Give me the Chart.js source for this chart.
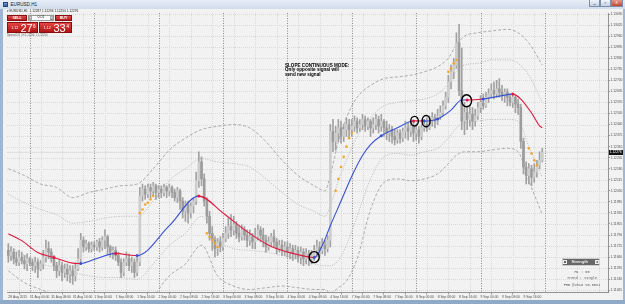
<!DOCTYPE html>
<html>
<head>
<meta charset="utf-8">
<title>EURUSD,H1</title>
<script src="https://cdn.jsdelivr.net/npm/chart.js@4.4.1/dist/chart.umd.min.js"></script>
<style>
html,body{margin:0;padding:0}
body{width:625px;height:304px;position:relative;overflow:hidden;background:#9fb6d4;font-family:"Liberation Sans",Arial,sans-serif}
.abs{position:absolute;white-space:nowrap}
#titlebar{left:0;top:0;width:625px;height:9px;background:linear-gradient(#e8eef7,#d0dcec)}
#wicon{left:3px;top:1.5px;width:5px;height:5px;background:linear-gradient(#6f9bd6,#2f5f9f);border:0.5px solid #234a7a;box-sizing:border-box}
#caption{left:10.5px;top:1.6px;font-size:4.6px;line-height:5px;color:#1a1a1a}
.wbtn{top:0;height:6.5px;box-sizing:border-box;border:0.5px solid #7b8fab;border-top:none;background:linear-gradient(#f2f6fb,#c3d1e4);font-size:4.5px;line-height:5.5px;text-align:center;color:#2a2a2a}
#wrap{left:3px;top:9px;width:620px;height:291px;background:#f2f2f2}
#bottombar{left:0;top:300px;width:625px;height:4px;background:#8fa9c9}
#hdr{left:6.5px;top:10.4px;font-size:3.2px;line-height:3.6px;color:#222}
.redbtn{height:6px;top:15px;box-sizing:border-box;background:linear-gradient(#e44b4b,#b91b1b);border:0.5px solid #8a1111;color:#fff;font-weight:bold;font-size:3.6px;line-height:5.2px;text-align:center}
#lot{left:28px;top:15px;width:26px;height:6px;box-sizing:border-box;background:#fff;border:0.5px solid #9a9a9a}
.pm{top:15.6px;width:3.6px;height:4.8px;background:#e2e2e2;border:0.4px solid #aaa;box-sizing:border-box;font-size:3.6px;line-height:4px;text-align:center;color:#333}
#lotv{left:37.5px;top:15.4px;font-size:3.6px;line-height:5px;color:#222}
.pbox{top:21.6px;height:11.4px;box-sizing:border-box;background:linear-gradient(#e64444,#b01414);border:0.5px solid #861010;color:#fff}
.small{position:absolute;bottom:1.8px;font-size:3.6px;line-height:4px}
.big{position:absolute;top:0.6px;font-size:11px;line-height:10px}
.sup{position:absolute;top:1px;font-size:4.6px;line-height:5px}
#info{left:7px;top:33.6px;font-size:2.6px;line-height:3px;color:#555}
#note{left:285px;top:63.6px;font-size:4.6px;line-height:4.55px;font-weight:bold;color:#000}
#strhead{left:562px;top:258.3px;width:38px;height:7.4px;box-sizing:border-box;background:#676767;border:0.5px solid #cfcfcf}
.sicon{top:259.6px;width:4px;height:4px;box-sizing:border-box;border:0.6px solid #eee;font-size:3.4px;line-height:3px;text-align:center;color:#eee}
#strtxt{left:571.5px;top:259.4px;font-size:4px;line-height:5px;font-weight:bold;color:#ececec}
.sline{left:562px;width:40px;text-align:center;font-family:"Liberation Mono",monospace;font-size:3.6px;line-height:4px;color:#5a5a5a}
#bidlab{left:608.5px;width:14.5px;height:4.8px;background:#111;color:#fff;font-size:3.3px;line-height:4.8px;text-align:center}
</style>
</head>
<body>
<div class="abs" id="titlebar"></div>
<div class="abs" id="wicon"></div>
<div class="abs" id="caption">EURUSD,H1</div>
<div class="abs wbtn" style="left:589px;width:11px">_</div>
<div class="abs wbtn" style="left:600px;width:10.5px">&#9643;</div>
<div class="abs wbtn" style="left:610.5px;width:12px;background:linear-gradient(#e69a8c,#c2452f);color:#fff">x</div>
<div class="abs" id="wrap"><canvas id="c" width="620" height="291"></canvas></div>
<div class="abs" id="bottombar"></div>

<div class="abs" id="hdr">&#9662; EURUSD,H1&nbsp; 1.12287 1.12294 1.12250 1.12276</div>
<div class="abs redbtn" style="left:7px;width:20px">SELL</div>
<div class="abs" id="lot"></div>
<div class="abs pm" style="left:28.6px">&#8722;</div>
<div class="abs" id="lotv">0.01</div>
<div class="abs pm" style="left:49.6px">+</div>
<div class="abs redbtn" style="left:55px;width:17px">BUY</div>
<div class="abs pbox" style="left:7px;width:30.5px">
  <span class="small" style="left:3.2px">1.12</span>
  <span class="big" style="left:12.4px">27</span>
  <span class="sup" style="left:25px">6</span>
</div>
<div class="abs pbox" style="left:39px;width:33px">
  <span class="small" style="left:3.8px">1.12</span>
  <span class="big" style="left:13.4px">33</span>
  <span class="sup" style="left:26.6px">4</span>
</div>
<div class="abs" id="info">Spread 5.8 &nbsp;| H 1.12294 &nbsp;L 1.12250</div>

<div class="abs" id="note">SLOPE CONTINUOUS MODE:<br>Only opposite signal will<br>send new signal</div>

<div class="abs" id="strhead"></div>
<div class="abs sicon" style="left:563.4px"></div>
<div class="abs" id="strtxt">Strength</div>
<div class="abs sicon" style="left:594.6px">x</div>
<div class="abs sline" style="top:270px">H1 : 60</div>
<div class="abs sline" style="top:276.4px">Trend : Single</div>
<div class="abs sline" style="top:283.2px">FHB @2016 v0.60n4</div>

<div class="abs" id="bidlab"></div>

<script>
// ---------- axis labels ----------
const timeLabels = ["28 Aug 2015","31 Aug 00:00","31 Aug 08:00","31 Aug 16:00","1 Sep 00:00","1 Sep 08:00","1 Sep 16:00","2 Sep 00:00","2 Sep 08:00","2 Sep 16:00","3 Sep 00:00","3 Sep 08:00","3 Sep 16:00","4 Sep 00:00","4 Sep 08:00","4 Sep 16:00","7 Sep 00:00","7 Sep 08:00","7 Sep 16:00","8 Sep 00:00","8 Sep 08:00","8 Sep 16:00","9 Sep 00:00","9 Sep 08:00","9 Sep 16:00"];
const tickBars = [0,8,16,24,32,40,48,56,64,72,80,88,96,104,112,120,128,136,144,152,160,168,176,184,192];
const dayBars = [8,32,56,80,104,128,152,176,200];
const gridBars = [4,12,20,28,36,44,52,60,68,76,84,92,100,108,116,124,132,140,148,156,164,172,180,188,196,204,212,220];
const priceTicks = [1.13090,1.13025,1.12960,1.12895,1.12830,1.12765,1.12700,1.12635,1.12570,1.12505,1.12440,1.12375,1.12310,1.12245,1.12180,1.12115,1.12050,1.11985,1.11920,1.11855,1.11790,1.11725,1.11660,1.11595,1.11530,1.11465];
const priceLabels = ["1.13090","1.13025","1.12960","1.12895","1.12830","1.12765","1.12700","1.12635","1.12570","1.12505","1.12440","1.12375","1.12310","1.12245","1.12180","1.12115","1.12050","1.11985","1.11920","1.11855","1.11790","1.11725","1.11660","1.11595","1.11530","1.11465"];
const yMin = 1.11455, yMax = 1.13096;
const bidPrice = 1.12276;

// ---------- EURUSD H1 candles ----------
const open = [
1.1170,1.1167,1.1169,1.1165,1.1163,1.1166,1.1164,1.1162,1.1165,1.1163,
1.1161,1.1163,1.1159,1.1162,1.1166,1.1171,1.1169,1.1165,1.1161,1.1158,
1.1161,1.1157,1.1159,1.1156,1.1158,1.1155,1.1159,1.1165,1.1176,1.1172,
1.1174,1.1171,1.1173,1.1172,1.1175,1.1172,1.1176,1.1178,1.1172,1.1169,
1.1170,1.1167,1.1163,1.1157,1.1163,1.1165,1.1161,1.1163,1.1157,1.1163,
1.1202,1.1206,1.1203,1.1207,1.1205,1.1208,1.1204,1.1206,1.1204,1.1207,
1.1205,1.1207,1.1204,1.1201,1.1205,1.1199,1.1193,1.1197,1.1192,1.1196,
1.1199,1.1211,1.1222,1.1212,1.1199,1.1190,1.1180,1.1176,1.1171,1.1175,
1.1172,1.1177,1.1180,1.1184,1.1182,1.1185,1.1180,1.1178,1.1182,1.1179,
1.1176,1.1178,1.1175,1.1178,1.1182,1.1179,1.1176,1.1172,1.1175,1.1178,
1.1175,1.1171,1.1173,1.1170,1.1172,1.1169,1.1171,1.1168,1.1170,1.1166,
1.1169,1.1165,1.1168,1.1165,1.1167,1.1170,1.1172,1.1170,1.1173,1.1171,
1.1176,1.1240,1.1234,1.1239,1.1242,1.1237,1.1241,1.1244,1.1241,1.1243,
1.1246,1.1242,1.1244,1.1247,1.1243,1.1246,1.1242,1.1244,1.1247,1.1243,
1.1246,1.1242,1.1239,1.1241,1.1237,1.1235,1.1239,1.1236,1.1240,1.1242,
1.1240,1.1243,1.1239,1.1241,1.1237,1.1242,1.1244,1.1242,1.1246,1.1248,
1.1246,1.1249,1.1251,1.1255,1.1260,1.1269,1.1275,1.1279,1.1292,1.1264,
1.1246,1.1251,1.1247,1.1250,1.1246,1.1249,1.1254,1.1257,1.1255,1.1260,
1.1262,1.1264,1.1262,1.1265,1.1263,1.1261,1.1263,1.1260,1.1257,1.1260,
1.1256,1.1254,1.1234,1.1219,1.1214,1.1218,1.1213,1.1216,1.1220,1.1223];
const high = [
1.1174,1.1172,1.1171,1.1169,1.1170,1.1169,1.1167,1.1168,1.1166,1.1165,
1.1166,1.1165,1.1164,1.1170,1.1176,1.1175,1.1171,1.1167,1.1163,1.1164,
1.1163,1.1162,1.1162,1.1161,1.1161,1.1163,1.1171,1.1180,1.1178,1.1176,
1.1175,1.1175,1.1175,1.1176,1.1177,1.1178,1.1182,1.1179,1.1173,1.1172,
1.1172,1.1169,1.1165,1.1165,1.1169,1.1168,1.1166,1.1165,1.1166,1.1207,
1.1209,1.1208,1.1209,1.1209,1.1210,1.1209,1.1208,1.1208,1.1209,1.1208,
1.1209,1.1208,1.1206,1.1207,1.1206,1.1201,1.1199,1.1199,1.1198,1.1201,
1.1216,1.1228,1.1225,1.1215,1.1201,1.1193,1.1184,1.1178,1.1177,1.1178,
1.1180,1.1184,1.1189,1.1191,1.1190,1.1187,1.1184,1.1185,1.1184,1.1182,
1.1182,1.1180,1.1183,1.1185,1.1184,1.1183,1.1179,1.1178,1.1180,1.1182,
1.1177,1.1176,1.1176,1.1175,1.1175,1.1174,1.1173,1.1173,1.1172,1.1172,
1.1171,1.1171,1.1170,1.1170,1.1173,1.1176,1.1175,1.1177,1.1176,1.1179,
1.1244,1.1247,1.1243,1.1247,1.1246,1.1244,1.1248,1.1247,1.1247,1.1249,
1.1248,1.1247,1.1250,1.1249,1.1248,1.1247,1.1248,1.1250,1.1249,1.1250,
1.1247,1.1246,1.1244,1.1243,1.1241,1.1241,1.1241,1.1242,1.1246,1.1245,
1.1246,1.1246,1.1244,1.1243,1.1244,1.1247,1.1248,1.1249,1.1251,1.1250,
1.1253,1.1255,1.1258,1.1263,1.1273,1.1279,1.1283,1.1298,1.1303,1.1289,
1.1257,1.1255,1.1255,1.1254,1.1253,1.1257,1.1261,1.1262,1.1263,1.1265,
1.1268,1.1269,1.1270,1.1271,1.1267,1.1265,1.1265,1.1262,1.1262,1.1261,
1.1259,1.1256,1.1236,1.1222,1.1221,1.1220,1.1221,1.1223,1.1228,1.1230];
const low = [
1.1163,1.1164,1.1162,1.1161,1.1161,1.1162,1.1159,1.1158,1.1161,1.1158,
1.1157,1.1154,1.1158,1.1159,1.1163,1.1165,1.1163,1.1158,1.1154,1.1155,
1.1152,1.1154,1.1152,1.1151,1.1150,1.1152,1.1158,1.1163,1.1169,1.1170,
1.1169,1.1169,1.1170,1.1170,1.1169,1.1170,1.1171,1.1168,1.1166,1.1165,
1.1164,1.1161,1.1154,1.1155,1.1161,1.1158,1.1157,1.1154,1.1155,1.1161,
1.1199,1.1200,1.1201,1.1201,1.1202,1.1200,1.1201,1.1201,1.1202,1.1201,
1.1202,1.1201,1.1199,1.1198,1.1194,1.1189,1.1187,1.1186,1.1189,1.1192,
1.1197,1.1207,1.1208,1.1196,1.1186,1.1176,1.1170,1.1166,1.1167,1.1169,
1.1170,1.1175,1.1177,1.1178,1.1179,1.1177,1.1175,1.1176,1.1176,1.1172,
1.1173,1.1171,1.1171,1.1176,1.1175,1.1172,1.1169,1.1170,1.1172,1.1172,
1.1168,1.1169,1.1167,1.1167,1.1166,1.1165,1.1164,1.1165,1.1163,1.1162,
1.1161,1.1162,1.1161,1.1162,1.1164,1.1166,1.1166,1.1168,1.1167,1.1169,
1.1172,1.1228,1.1229,1.1234,1.1233,1.1234,1.1237,1.1236,1.1237,1.1240,
1.1239,1.1240,1.1241,1.1240,1.1241,1.1237,1.1239,1.1241,1.1239,1.1240,
1.1237,1.1235,1.1234,1.1233,1.1232,1.1233,1.1233,1.1234,1.1236,1.1235,
1.1237,1.1234,1.1235,1.1233,1.1235,1.1240,1.1240,1.1241,1.1243,1.1242,
1.1244,1.1247,1.1249,1.1253,1.1257,1.1265,1.1271,1.1277,1.1261,1.1241,
1.1238,1.1241,1.1243,1.1241,1.1243,1.1247,1.1251,1.1253,1.1254,1.1257,
1.1260,1.1259,1.1260,1.1260,1.1258,1.1257,1.1255,1.1255,1.1254,1.1251,
1.1250,1.1230,1.1215,1.1209,1.1209,1.1208,1.1210,1.1213,1.1218,1.1222];
const close = [
1.1167,1.1169,1.1165,1.1163,1.1166,1.1164,1.1162,1.1165,1.1163,1.1161,
1.1163,1.1159,1.1162,1.1166,1.1171,1.1169,1.1165,1.1161,1.1158,1.1161,
1.1157,1.1159,1.1156,1.1158,1.1155,1.1159,1.1165,1.1176,1.1172,1.1174,
1.1171,1.1173,1.1172,1.1175,1.1172,1.1176,1.1178,1.1172,1.1169,1.1170,
1.1167,1.1163,1.1157,1.1163,1.1165,1.1161,1.1163,1.1157,1.1163,1.1202,
1.1206,1.1203,1.1207,1.1205,1.1208,1.1204,1.1206,1.1204,1.1207,1.1205,
1.1207,1.1204,1.1201,1.1205,1.1199,1.1193,1.1197,1.1192,1.1196,1.1199,
1.1211,1.1222,1.1212,1.1199,1.1190,1.1180,1.1176,1.1171,1.1175,1.1172,
1.1177,1.1180,1.1184,1.1182,1.1185,1.1180,1.1178,1.1182,1.1179,1.1176,
1.1178,1.1175,1.1178,1.1182,1.1179,1.1176,1.1172,1.1175,1.1178,1.1175,
1.1171,1.1173,1.1170,1.1172,1.1169,1.1171,1.1168,1.1170,1.1166,1.1169,
1.1165,1.1168,1.1165,1.1167,1.1170,1.1172,1.1170,1.1173,1.1171,1.1176,
1.1240,1.1234,1.1239,1.1242,1.1237,1.1241,1.1244,1.1241,1.1243,1.1246,
1.1242,1.1244,1.1247,1.1243,1.1246,1.1242,1.1244,1.1247,1.1243,1.1246,
1.1242,1.1239,1.1241,1.1237,1.1235,1.1239,1.1236,1.1240,1.1242,1.1240,
1.1243,1.1239,1.1241,1.1237,1.1242,1.1244,1.1242,1.1246,1.1248,1.1246,
1.1249,1.1251,1.1255,1.1260,1.1269,1.1275,1.1279,1.1292,1.1264,1.1246,
1.1251,1.1247,1.1250,1.1246,1.1249,1.1254,1.1257,1.1255,1.1260,1.1262,
1.1264,1.1262,1.1265,1.1263,1.1261,1.1263,1.1260,1.1257,1.1260,1.1256,
1.1254,1.1234,1.1219,1.1214,1.1218,1.1213,1.1216,1.1220,1.1223,1.12276];

// ---------- slope MA (coloured line) ----------
const maBars = [0,5,11,17,25,27,33,40,47,48,60,71,80,89,98,106,114,117,120,124,128,132,135,139,145,151,155,160,165,169,171,177,183,188,191,195,198,199];
const maValues = [1.11798,1.11757,1.11687,1.11658,1.11623,1.11623,1.11652,1.11682,1.11670,1.11670,1.11845,1.12019,1.11920,1.11810,1.11722,1.11682,1.11658,1.11728,1.11845,1.11990,1.12136,1.12258,1.12322,1.12374,1.12421,1.12461,1.12461,1.12473,1.12525,1.12584,1.12584,1.12590,1.12607,1.12619,1.12590,1.12508,1.12432,1.12421];
const maTrend = ['down','down','down','down','down','up','up','down','down','up','up','down','down','down','down','down','up','up','up','up','up','up','up','up','up','down','up','up','up','up','down','up','up','down','down','down','down','down'];
const maSignal = [0,0,0,1,0,1,0,1,0,1,0,1,0,0,0,0,1,0,0,0,0,0,0,1,0,1,1,1,0,0,1,1,0,1,0,0,0,0];

// ---------- bands ----------
const bandBars = [0,6,12,18,24,30,36,42,48,54,60,66,72,78,84,90,96,102,108,114,118,120,123,126,130,135,140,145,150,155,160,164,167,170,175,180,186,190,194,199];
const upperOuter = [1.1218,1.1214,1.1209,1.1207,1.1201,1.1204,1.1206,1.1208,1.1209,1.1218,1.1229,1.1236,1.1241,1.1243,1.1244,1.1242,1.1234,1.1223,1.1214,1.1208,1.1205,1.1214,1.1234,1.1248,1.1260,1.1267,1.1271,1.1272,1.1273,1.1275,1.1278,1.1283,1.1291,1.1296,1.1298,1.1299,1.1300,1.1298,1.1292,1.1279];
const upperInner = [1.1203,1.1198,1.1194,1.1191,1.1186,1.1187,1.1189,1.1190,1.1190,1.1199,1.1211,1.1218,1.1224,1.1222,1.1221,1.1219,1.1212,1.1204,1.1197,1.1193,1.1190,1.1196,1.1211,1.1223,1.1237,1.1248,1.1255,1.1257,1.1258,1.1259,1.1262,1.1268,1.1275,1.1279,1.1280,1.1282,1.1282,1.1280,1.1273,1.1257];
const lowerInner = [1.1173,1.1167,1.1162,1.1160,1.1157,1.1155,1.1154,1.1154,1.1153,1.1162,1.1173,1.1180,1.1190,1.1176,1.1171,1.1170,1.1169,1.1167,1.1165,1.1162,1.1161,1.1161,1.1164,1.1173,1.1190,1.1212,1.1225,1.1227,1.1226,1.1228,1.1230,1.1236,1.1242,1.1245,1.1246,1.1247,1.1247,1.1246,1.1231,1.1213];
const lowerOuter = [1.1158,1.1151,1.1147,1.1144,1.1143,1.1138,1.1136,1.1136,1.1134,1.1143,1.1155,1.1162,1.1173,1.1155,1.1149,1.1147,1.1148,1.1149,1.1148,1.1147,1.1147,1.1145,1.1148,1.1152,1.1165,1.1194,1.1210,1.1212,1.1211,1.1212,1.1215,1.1221,1.1226,1.1228,1.1228,1.1229,1.1230,1.1228,1.1211,1.1191];

// ---------- orange trailing dots ----------
const dotBars = [49,50,51,52,53,54,74,75,76,77,78,122,123,124,125,126,127,128,164,165,166,167,194,195,196,197];
const dotPrices = [1.1192,1.1194,1.1197,1.1198,1.1200,1.1202,1.1180,1.1178,1.1176,1.1174,1.1172,1.1205,1.1212,1.1219,1.1225,1.1231,1.1236,1.1239,1.1275,1.1277,1.1280,1.1282,1.1230,1.1227,1.1223,1.1220];

// ---------- hand-drawn circles (annotation) ----------
const circleBars = [114,151.4,155.7,170.8];
const circlePrices = [1.1166,1.1246,1.1246,1.1258];
const circleSize = [[5,5.5],[3.8,4.8],[4,5.6],[5,6]];

const BLUE = '#3550d6', RED = '#e3173c';
const idx = open.map((_, i) => i);

const mtPlugin = {
  id: 'mt',
  beforeDatasetsDraw(chart) {
    const {ctx, chartArea: a, scales: {x, y}} = chart;
    ctx.save();
    ctx.beginPath(); ctx.rect(a.left, a.top, a.right - a.left, a.bottom - a.top); ctx.clip();
    const ln = (x1, y1, x2, y2) => { ctx.beginPath(); ctx.moveTo(x1, y1); ctx.lineTo(x2, y2); ctx.stroke(); };
    ctx.lineWidth = 1; ctx.strokeStyle = '#dadada'; ctx.setLineDash([1, 1]);
    gridBars.forEach(b => { const p = Math.round(x.getPixelForValue(b)) + 0.5; ln(p, a.top, p, a.bottom); });
    priceTicks.forEach(v => { const p = Math.round(y.getPixelForValue(v)) + 0.5; ln(a.left, p, a.right, p); });
    ctx.strokeStyle = '#8c8c8c'; ctx.setLineDash([1, 1.5]);
    dayBars.forEach(b => { const p = Math.round(x.getPixelForValue(b)) + 0.5; ln(p, a.top, p, a.bottom); });
    ctx.setLineDash([]); ctx.strokeStyle = '#d0d0d0'; ctx.lineWidth = 0.6;
    const bp = y.getPixelForValue(bidPrice); ln(a.left, bp, a.right, bp);
    ctx.restore();
  },
  afterDatasetsDraw(chart) {
    const {ctx, scales: {x, y}} = chart;
    ctx.save();
    ctx.strokeStyle = '#000'; ctx.lineWidth = 1.4;
    circleBars.forEach((b, i) => {
      ctx.beginPath();
      ctx.ellipse(x.getPixelForValue(b), y.getPixelForValue(circlePrices[i]), circleSize[i][0], circleSize[i][1], 0, 0, Math.PI * 2);
      ctx.stroke();
    });
    ctx.restore();
  }
};

const tickFont = {family: 'Liberation Sans', size: 3.3};
const chart = new Chart(document.getElementById('c'), {
  type: 'bar',
  data: {
    datasets: [
      {type: 'line', label: 'Upper band 2', data: bandBars.map((b, i) => ({x: b, y: upperOuter[i]})), borderColor: '#9a9a9a', borderWidth: 0.8, borderDash: [3, 2], pointRadius: 0, cubicInterpolationMode: 'monotone', order: 8},
      {type: 'line', label: 'Upper band 1', data: bandBars.map((b, i) => ({x: b, y: upperInner[i]})), borderColor: '#a9a9a9', borderWidth: 0.8, borderDash: [1, 1.5], pointRadius: 0, cubicInterpolationMode: 'monotone', order: 8},
      {type: 'line', label: 'Lower band 1', data: bandBars.map((b, i) => ({x: b, y: lowerInner[i]})), borderColor: '#a9a9a9', borderWidth: 0.8, borderDash: [1, 1.5], pointRadius: 0, cubicInterpolationMode: 'monotone', order: 8},
      {type: 'line', label: 'Lower band 2', data: bandBars.map((b, i) => ({x: b, y: lowerOuter[i]})), borderColor: '#9a9a9a', borderWidth: 0.8, borderDash: [3, 2], pointRadius: 0, cubicInterpolationMode: 'monotone', order: 8},
      {type: 'bar', label: 'Wick', data: idx.map(i => ({x: i, y: [low[i], high[i]]})), backgroundColor: '#a2a2a2', barThickness: 1, grouped: false, order: 6},
      {type: 'bar', label: 'Body', data: idx.map(i => ({x: i, y: [open[i], close[i]]})), backgroundColor: idx.map(i => close[i] >= open[i] ? '#cdcdcd' : '#9c9c9c'), barThickness: 2, minBarLength: 1, grouped: false, order: 5},
      {type: 'line', label: 'Slope MA', data: maBars.map((b, i) => ({x: b, y: maValues[i]})), borderColor: RED, borderWidth: 1.1,
        segment: {borderColor: c => maTrend[c.p0DataIndex] === 'up' ? BLUE : RED},
        pointRadius: c => maSignal[c.dataIndex] ? 1.5 : 0,
        pointBackgroundColor: c => maTrend[c.dataIndex] === 'up' ? BLUE : RED, pointBorderWidth: 0,
        cubicInterpolationMode: 'monotone', order: 2},
      {type: 'scatter', label: 'Trail dots', data: dotBars.map((b, i) => ({x: b, y: dotPrices[i]})), pointRadius: 1.3, backgroundColor: '#f4a428', borderWidth: 0, order: 1}
    ]
  },
  options: {
    responsive: false, animation: false,
    layout: {padding: {left: 1, top: 1, right: 0, bottom: 0}},
    plugins: {legend: {display: false}, tooltip: {enabled: false}},
    scales: {
      x: {type: 'linear', min: -0.5, max: 223.5, offset: false,
        afterBuildTicks: s => { s.ticks = tickBars.map(v => ({value: v})); },
        afterFit: s => { s.height = 8; },
        ticks: {callback: (v, i) => timeLabels[i], autoSkip: false, maxRotation: 0, minRotation: 0, align: 'start', padding: 0.5, color: '#505050', font: tickFont},
        grid: {drawOnChartArea: false, drawTicks: true, tickLength: 2.5, tickColor: '#777', tickWidth: 0.7},
        border: {display: true, color: '#7a7a7a', width: 0.8}
      },
      y: {type: 'linear', position: 'right', min: yMin, max: yMax,
        afterBuildTicks: s => { s.ticks = priceTicks.map(v => ({value: v})); },
        afterFit: s => { s.width = 15; },
        ticks: {callback: (v, i) => priceLabels[i], autoSkip: false, padding: 0.5, color: '#505050', font: tickFont},
        grid: {drawOnChartArea: false, drawTicks: true, tickLength: 2, tickColor: '#777', tickWidth: 0.7},
        border: {display: true, color: '#7a7a7a', width: 0.8}
      }
    }
  },
  plugins: [mtPlugin]
});

const bl = document.getElementById('bidlab');
bl.textContent = bidPrice.toFixed(5);
bl.style.top = (chart.scales.y.getPixelForValue(bidPrice) + 9 - 2.4) + 'px';
</script>
</body>
</html>
